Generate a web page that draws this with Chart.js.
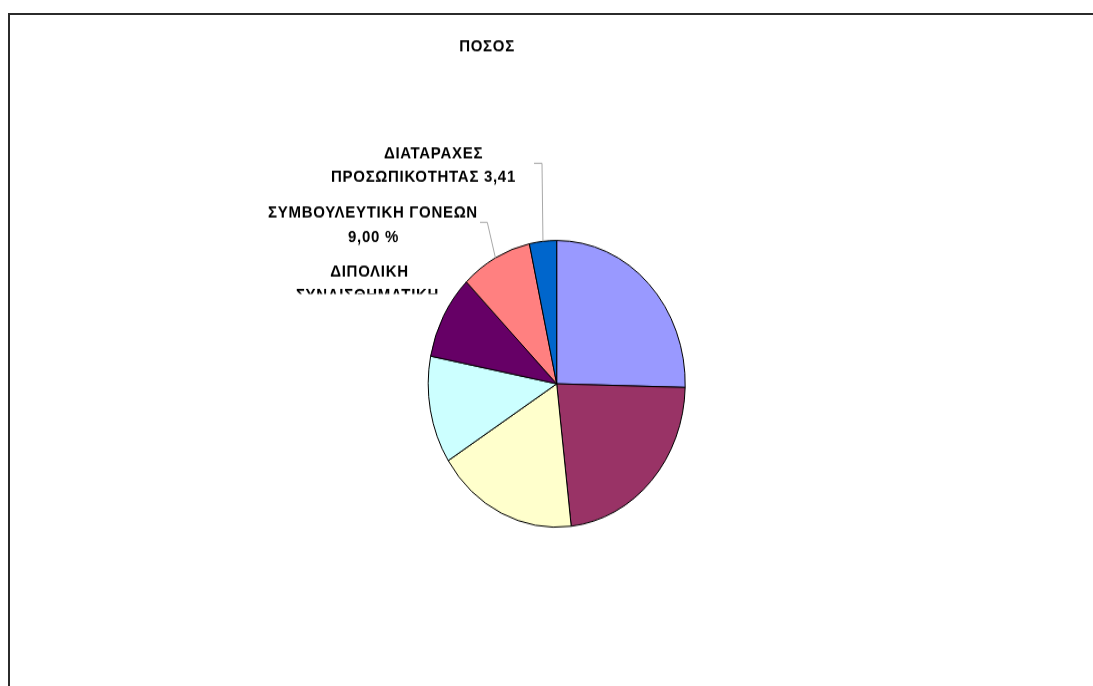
<!DOCTYPE html>
<html>
<head>
  <meta charset="UTF-8">
  <title>ΠΟΣΟΣ</title>
  <script src="https://cdn.jsdelivr.net/npm/chart.js"></script>
  <style>
  html, body {
    margin: 0;
    padding: 0;
    background: #ffffff;
    overflow: hidden;
    width: 1093px;
    height: 686px;
  }

  .frame {
    position: absolute;
    left: 8px;
    top: 13px;
    width: 1200px;
    height: 800px;
    border-left: 2px solid #2b2b2b;
    border-top: 2px solid #2b2b2b;
  }

  /* the original picture is stretched vertically, so draw flat and stretch */
  .wrap {
    position: absolute;
    left: 0;
    top: 0;
    width: 1093px;
    height: 615px;
    transform: scaleY(1.1154);
    transform-origin: 0 0;
  }
</style>
</head>
<body>

  <div class="frame"></div>
  <div class="wrap">
    <canvas id="pie" width="1093" height="615"></canvas>
  </div>

  <script>
    const title = "ΠΟΣΟΣ";

    const categories = [
      "",
      "",
      "",
      "",
      "ΔΙΠΟΛΙΚΗ ΣΥΝΑΙΣΘΗΜΑΤΙΚΗ",
      "ΣΥΜΒΟΥΛΕΥΤΙΚΗ ΓΟΝΕΩΝ",
      "ΔΙΑΤΑΡΑΧΕΣ ΠΡΟΣΩΠΙΚΟΤΗΤΑΣ"
    ];
    const values = [25.4, 22.8, 17.8, 12.1, 9.49, 9.00, 3.41];
    const colors = ["#9999FF", "#993366", "#FFFFCC", "#CCFFFF", "#660066", "#FF8080", "#0066CC"];

    // label lines as they appear on the chart (null = no label shown)
    const labelLines = [
      null,
      null,
      null,
      null,
      ["ΔΙΠΟΛΙΚΗ", "ΣΥΝΑΙΣΘΗΜΑΤΙΚΗ"],
      ["ΣΥΜΒΟΥΛΕΥΤΙΚΗ ΓΟΝΕΩΝ", "9,00 %"],
      ["ΔΙΑΤΑΡΑΧΕΣ", "ΠΡΟΣΩΠΙΚΟΤΗΤΑΣ 3,41"]
    ];

    // where each label block sits (unstretched px): line centres and leader elbow
    const labelPlace = {
      4: { xs: [369.5, 367.5], ys: [243.6, 264.9], clipY: 263.6 },
      5: { xs: [373, 373.5], ys: [191.0, 212.9], leader: [480, 487.3, 199.3] },
      6: { xs: [433.5, 423.5], ys: [137.4, 159.0], leader: [534, 542, 146.4] }
    };

    const FONT = "bold 15px 'Liberation Sans', Arial, sans-serif";
    const SPACING = "0.7px";

    function setText(ctx) {
      ctx.font = FONT;
      ctx.letterSpacing = SPACING;
      ctx.fillStyle = "#000";
      ctx.textAlign = "center";
      ctx.textBaseline = "middle";
    }

    const labelPlugin = {
      id: "pieLabels",
      afterDatasetsDraw(chart) {
        const ctx = chart.ctx;
        const meta = chart.getDatasetMeta(0);

        ctx.save();
        setText(ctx);
        ctx.fillText(title, 487, 42.1);
        ctx.restore();

        labelLines.forEach((lines, i) => {
          if (!lines) return;
          const p = labelPlace[i];
          const arc = meta.data[i];
          const mid = (arc.startAngle + arc.endAngle) / 2;

          if (p.leader) {
            const ex = arc.x + Math.cos(mid) * arc.outerRadius;
            const ey = arc.y + Math.sin(mid) * arc.outerRadius;
            ctx.save();
            ctx.strokeStyle = "#a8a8a8";
            ctx.lineWidth = 1;
            ctx.beginPath();
            ctx.moveTo(p.leader[0], p.leader[2]);
            ctx.lineTo(p.leader[1], p.leader[2]);
            ctx.lineTo(ex, ey);
            ctx.stroke();
            ctx.restore();
          }

          ctx.save();
          if (p.clipY) {
            ctx.beginPath();
            ctx.rect(0, 0, chart.width, p.clipY);
            ctx.clip();
          }
          setText(ctx);
          lines.forEach((t, k) => ctx.fillText(t, p.xs[k], p.ys[k]));
          ctx.restore();
        });
      }
    };

    const chart = new Chart(document.getElementById("pie"), {
      type: "pie",
      data: {
        labels: categories,
        datasets: [{
          data: values,
          backgroundColor: colors,
          borderColor: "#000000",
          borderWidth: 1
        }]
      },
      options: {
        responsive: false,
        animation: false,
        devicePixelRatio: 1,
        layout: {
          padding: { left: 427.7, right: 407.3, top: 215.1, bottom: 141.9 }
        },
        plugins: {
          legend: { display: false },
          title: { display: false },
          tooltip: { enabled: false }
        }
      },
      plugins: [labelPlugin]
    });
  </script>

</body>
</html>
